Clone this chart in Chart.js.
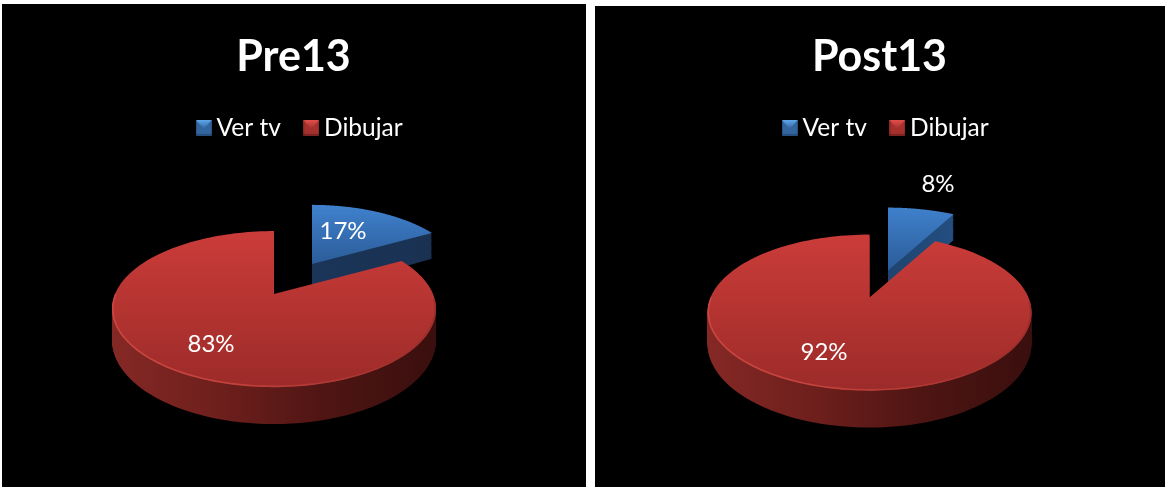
<!DOCTYPE html>
<html><head><meta charset="utf-8">
<style>
html,body{margin:0;padding:0;background:#fff;width:1165px;height:487px;overflow:hidden}
.p{position:absolute;background:#000}
canvas{display:block}
</style>
<script src="https://cdn.jsdelivr.net/npm/chart.js@4"></script>
</head><body>
<div class="p" style="left:2px;top:4px;width:584px;height:483px"><canvas id="c1" width="584" height="483"></canvas></div>
<div class="p" style="left:595px;top:6px;width:570px;height:481px"><canvas id="c2" width="570" height="481"></canvas></div>
<script>
const categories = ['Ver tv', 'Dibujar'];
const pre13Values = [17, 83];
const post13Values = [8, 92];
const sliceColors = ['#3a78c4', '#bb3531'];

const K = 0.192, SQUASH = 0.472, DEPTH = 30;
const FONT = 'Lato, Carlito, "Open Sans", sans-serif';

function legendIcon(base, light, dark){
  const c = document.createElement('canvas'); c.width = 16; c.height = 16;
  const x = c.getContext('2d');
  x.fillStyle = base; x.fillRect(0,0,16,16);
  const g = x.createLinearGradient(0,0,0,9); g.addColorStop(0, light); g.addColorStop(1, base);
  x.fillStyle = g; x.beginPath(); x.moveTo(0,0); x.lineTo(16,0); x.lineTo(8,9); x.closePath(); x.fill();
  x.fillStyle = dark; x.fillRect(0,14,16,2);
  x.fillStyle = 'rgba(0,0,0,.18)'; x.fillRect(0,0,1,16); x.fillRect(15,0,1,16);
  return c;
}
const icons = [legendIcon('#33659f','#5fa9ee','#27507f'), legendIcon('#a5302d','#e4504c','#7d2321')];

const pie3d = {
  id: 'pie3d',
  beforeDatasetsDraw(chart){
    const g = chart.options.plugins.pie3d;
    const ctx = chart.ctx;
    const meta = chart.getDatasetMeta(0);
    const values = chart.data.datasets[0].data;
    const cx0 = meta.data[0].x, cy0 = meta.data[0].y;
    const R = meta.data[0].outerRadius;
    const proj = (a, r, cx, cy, t, s) => {
      const u = Math.cos(a)*r, v = -Math.sin(a)*r, w = 1 + K*v;
      return [cx + R*s*u/w, cy - R*s*SQUASH*v/w + t*DEPTH*s/w];
    };
    const shape = (el, i, t) => {
      const ex = g.explode[i];
      const cx = cx0 + ex.dx, cy = cy0 + ex.dy, s = ex.scale;
      ctx.beginPath();
      const p0 = proj(0,0,cx,cy,t,s); ctx.moveTo(p0[0],p0[1]);
      const n = 160;
      for (let j=0;j<=n;j++){
        const a = el.startAngle + (el.endAngle-el.startAngle)*j/n;
        const p = proj(a,1,cx,cy,t,s); ctx.lineTo(p[0],p[1]);
      }
      ctx.closePath();
    };
    const grad = (x0,y0,x1,y1,stops) => {
      const l = ctx.createLinearGradient(x0,y0,x1,y1);
      stops.forEach((c,i)=>l.addColorStop(i/(stops.length-1),c));
      return l;
    };
    meta.data.forEach((el,i) => {
      const ex = g.explode[i];
      const cy = cy0 + ex.dy, cx = cx0 + ex.dx;
      const st = g.styles[i];
      ctx.fillStyle = grad(cx-R+st.wallX[0],0,cx+R+st.wallX[1],0,st.wall);
      for (let t=1;t>=0.02;t-=0.03){ shape(el,i,t); ctx.fill(); }
      const top = cy + st.topY[0], bot = cy + st.topY[1];
      ctx.fillStyle = grad(0,top,0,bot,st.top);
      shape(el,i,0); ctx.fill();
      if (st.rim){
        const s = ex.scale;
        ctx.lineWidth = 1.6; ctx.lineJoin='round';
        ctx.beginPath();
        const a0 = Math.PI*0.02, a1 = Math.PI*1.0;
        for (let j=0;j<=120;j++){
          const a = a0 + (a1-a0)*j/120;
          const p = proj(a,0.995,cx,cy,0,s);
          j?ctx.lineTo(p[0],p[1]):ctx.moveTo(p[0],p[1]);
        }
        ctx.strokeStyle = grad(cx-R,0,cx+R,0,st.rim);
        ctx.stroke();
      }
    });
    ctx.fillStyle = '#fff';
    ctx.font = '24px ' + FONT;
    ctx.textAlign = 'center'; ctx.textBaseline = 'middle';
    values.forEach((v,i) => ctx.fillText(v + '%', cx0 + g.labels[i][0], cy0 + g.labels[i][1]));
    return false;
  },
  afterLayout(chart){
    const o = chart.options.plugins.pie3d;
    chart.legend.left += o.legendShift; chart.legend.right += o.legendShift;
    chart.legend.top += 1; chart.legend.bottom += 1;
    chart.titleBlock.left += o.titleShift; chart.titleBlock.right += o.titleShift;
  }
};

const styleBlueA = {
  wall:['#1c3a62','#1a3558','#1a3050'], wallX:[0,0],
  top:['#3f80cc','#2b5c98'], topY:[-57,0]
};
const styleBlueB = {
  wall:['#1e4068','#1f4470','#2a5c96'], wallX:[0,0],
  top:['#3f80cc','#2b5c98'], topY:[-63,0]
};
const styleRed = {
  wall:['#842825','#6d1f1c','#4e1513','#3a0f0e'], wallX:[0,0],
  top:['#cb3c39','#9c2b29'], topY:[-63,93],
  rim:['#cc4540','#c4423d','#b03834','#9a2d2a']
};

function makeChart(id, title, values, geo){
  return new Chart(document.getElementById(id), {
    type: 'pie',
    data: { labels: categories, datasets: [{ data: values, backgroundColor: sliceColors, borderWidth: 0 }] },
    plugins: [pie3d],
    options: {
      responsive: false, animation: false, radius: 159,
      layout: { padding: geo.padding },
      plugins: {
        pie3d: geo,
        tooltip: { enabled: false },
        title: { display: true, text: title, color: '#fff',
          font: { family: FONT, size: 43, weight: 'bold' }, padding: geo.titlePad },
        legend: { display: true, position: 'top',
          labels: { color: '#fff', font: { family: FONT, size: 24.5 }, usePointStyle: true,
            boxWidth: 1, boxHeight: 1, pointStyleWidth: 1, padding: 30,
            generateLabels: c => categories.map((t,i)=>({ text: t, fontColor: '#fff', pointStyle: icons[i], hidden: false, index: i, lineWidth: 0 })) } }
      }
    }
  });
}

makeChart('c1', 'Pre13', pre13Values, {
  padding: { left: 0, right: 40, top: 0, bottom: 48 },
  titlePad: { top: 27, bottom: 2 },
  legendShift: 29, titleShift: 19.5,
  explode: [{dx:38, dy:-30, scale:0.94},{dx:0, dy:0, scale:1}],
  styles: [styleBlueA, styleRed],
  labels: [[69,-63],[-63,50]]
});
makeChart('c2', 'Post13', post13Values, {
  padding: { left: 0, right: 21, top: 0, bottom: 41 },
  titlePad: { top: 25, bottom: 2 },
  legendShift: 19.5, titleShift: 10,
  explode: [{dx:18.5, dy:-27, scale:1},{dx:0, dy:0, scale:1}],
  styles: [styleBlueB, styleRed],
  labels: [[68.5,-113],[-45.5,55]]
});
</script>
</body></html>
